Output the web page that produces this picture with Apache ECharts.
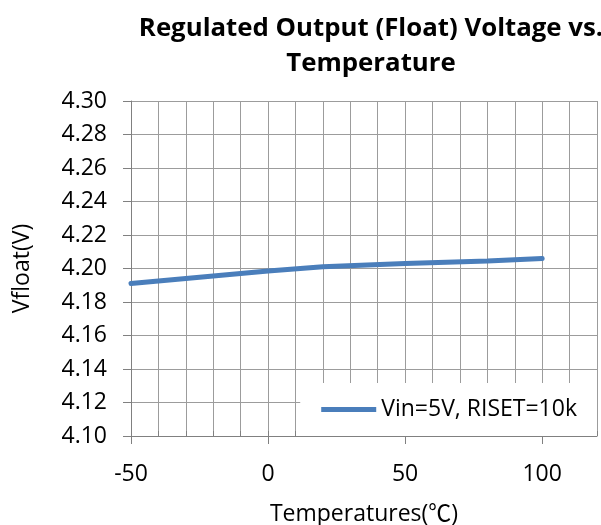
<!DOCTYPE html>
<html><head><meta charset="utf-8">
<script src="https://cdn.jsdelivr.net/npm/echarts@6/dist/echarts.min.js"></script>
<style>html,body{margin:0;padding:0;background:#fff}#c{width:601px;height:525px}</style>
</head><body><div id="c"></div>
<script>
const title = 'Regulated Output (Float) Voltage vs.\nTemperature';
const xName = 'Temperatures(℃)';
const yName = 'Vfloat(V)';
const seriesName = 'Vin=5V, RISET=10k';
const temps = [-50, -20, 0, 20, 50, 80, 100];
const vfloat = [4.191, 4.1955, 4.1985, 4.201, 4.203, 4.2045, 4.206];
const FONT = '"Open Sans", "Noto Sans CJK SC", sans-serif';
const chart = echarts.init(document.getElementById('c'));
chart.setOption({
  animation: false,
  title: {
    text: title, left: 366, top: 6, textAlign: 'center',
    textStyle: {fontFamily: FONT, fontWeight: 'bold', fontSize: 25.8, lineHeight: 35, color: '#000'}
  },
  grid: {left: 131, right: 4, top: 101, bottom: 89, outerBoundsMode: 'none', containLabel: false},
  legend: {
    right: 4, bottom: 89, backgroundColor: '#fff',
    padding: [15, 20, 15, 21], itemWidth: 55, itemHeight: 5, itemGap: 5,
    icon: 'rect',
    textStyle: {fontFamily: FONT, fontSize: 23, color: '#000', padding: [0, 0, 0, 0]},
    data: [seriesName]
  },
  xAxis: [{
    type: 'value', min: -50, max: 120, interval: 10,
    axisLine: {onZero: false, lineStyle: {color: '#808080', width: 1}},
    axisTick: {inside: true, length: 5, lineStyle: {color: '#808080'}},
    axisLabel: {show: false},
    splitLine: {show: true, lineStyle: {color: '#9c9c9c', width: 1}}
  }, {
    type: 'value', min: -50, max: 120, interval: 50, position: 'bottom',
    name: xName, nameLocation: 'middle', nameGap: 67,
    nameTextStyle: {fontFamily: FONT, fontSize: 23, color: '#000'},
    axisLine: {show: false, onZero: false},
    axisTick: {show: true, length: 8, lineStyle: {color: '#808080'}},
    axisLabel: {showMaxLabel: false, margin: 27, fontFamily: FONT, fontSize: 23, color: '#000'},
    splitLine: {show: false}
  }],
  yAxis: {
    type: 'value', min: 4.1, max: 4.3, interval: 0.02,
    name: yName, nameLocation: 'middle', nameGap: 97,
    nameTextStyle: {fontFamily: FONT, fontSize: 23, color: '#000'},
    axisLine: {show: true, onZero: false, lineStyle: {color: '#808080', width: 1}},
    axisTick: {show: true, length: 8, lineStyle: {color: '#808080'}},
    axisLabel: {margin: 24, fontFamily: FONT, fontSize: 23, color: '#000',
      formatter: v => v.toFixed(2)},
    splitLine: {show: true, lineStyle: {color: '#9c9c9c', width: 1}}
  },
  series: [{
    name: seriesName, type: 'line', xAxisIndex: 0,
    data: temps.map((t, i) => [t, vfloat[i]]),
    showSymbol: false, symbol: 'none',
    lineStyle: {color: '#4a7ebb', width: 5, cap: 'round'},
    itemStyle: {color: '#4a7ebb'}
  }]
});
</script></body></html>
